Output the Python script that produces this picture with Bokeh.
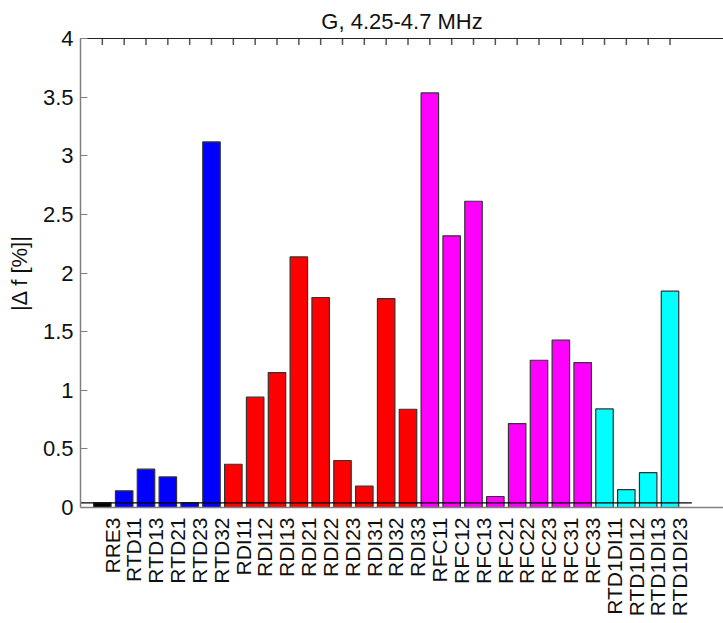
import math
from bokeh.plotting import figure
from bokeh.models import Range1d, LinearAxis, FixedTicker, ColumnDataSource
from bokeh.embed import file_html
from bokeh.resources import INLINE

names = ["RRE3", "RTD11", "RTD13", "RTD21", "RTD23", "RTD32",
         "RDI11", "RDI12", "RDI13", "RDI21", "RDI22", "RDI23", "RDI31", "RDI32", "RDI33",
         "RFC11", "RFC12", "RFC13", "RFC21", "RFC22", "RFC23", "RFC31", "RFC33",
         "RTD1DI11", "RTD1DI12", "RTD1DI13", "RTD1DI23"]
values = [0.04, 0.142, 0.327, 0.261, 0.04, 3.118,
          0.369, 0.941, 1.151, 2.137, 1.791, 0.401, 0.182, 1.782, 0.838,
          3.536, 2.317, 2.612, 0.094, 0.716, 1.256, 1.427, 1.236,
          0.841, 0.153, 0.298, 1.845]
groups = ["RRE"] + ["RTD"] * 5 + ["RDI"] * 9 + ["RFC"] * 8 + ["RTD1DI"] * 4
group_colors = {"RRE": "#000000", "RTD": "#0000ff", "RDI": "#ff0000",
                "RFC": "#ff00ff", "RTD1DI": "#00ffff"}
threshold = 0.04
y_ticks = [0, 0.5, 1, 1.5, 2, 2.5, 3, 3.5, 4]

FONT = "Liberation Sans"
FS = "22px"
TXT = "#111111"
n = len(names)
xpos = list(range(1, n + 1))
x_end = 29.45
y_max = 4
tick_len = 0.055  # length of the inward top ticks, in y units

src = ColumnDataSource(dict(x=xpos, top=values,
                            color=[group_colors[g] for g in groups]))

p = figure(width=723, height=623, output_backend="svg", toolbar_location=None,
           x_range=Range1d(0, x_end), y_range=Range1d(0, y_max),
           x_axis_type=None, y_axis_type=None,
           min_border_left=80, min_border_right=0, min_border_top=38,
           min_border_bottom=116)
p.outline_line_color = None
p.grid.visible = False
p.background_fill_color = "white"
p.border_fill_color = "white"

p.title.text = "G, 4.25-4.7 MHz"
p.title.text_font = FONT
p.title.text_font_size = FS
p.title.text_font_style = "normal"
p.title.align = "center"
p.title.text_color = TXT

p.vbar(x="x", top="top", width=0.8, bottom=0, fill_color="color",
       line_color="#333333", line_width=1.2, source=src)
p.line(x=[0, 28], y=[threshold, threshold], line_color="black", line_width=1.2)

# top inward ticks at each bar
p.segment(x0=xpos, x1=xpos, y0=[y_max] * n, y1=[y_max - tick_len] * n,
          line_color="#555555", line_width=1.5)

# left axis
yax = LinearAxis(ticker=FixedTicker(ticks=y_ticks),
                 major_label_overrides={t: f"{t:g}" for t in y_ticks})
yax.axis_label = "|\u0394 f [%]|"
yax.axis_label_text_font = FONT
yax.axis_label_text_font_size = FS
yax.axis_label_text_font_style = "normal"
yax.axis_label_text_color = TXT
yax.axis_label_standoff = 8
yax.major_label_text_font = FONT
yax.major_label_text_font_size = FS
yax.major_label_text_color = TXT
yax.major_label_standoff = 7
yax.major_tick_in = 7
yax.major_tick_out = 0
yax.minor_tick_line_color = None
yax.axis_line_color = "#808080"
yax.major_tick_line_color = "#808080"
yax.axis_line_width = 1.5
p.add_layout(yax, "left")

# top axis: line only
tax = LinearAxis(ticker=FixedTicker(ticks=[]))
tax.major_label_standoff = 0
tax.major_tick_in = 0
tax.major_tick_out = 0
tax.minor_tick_line_color = None
tax.major_tick_line_color = None
tax.axis_line_color = "#222222"
p.add_layout(tax, "above")

# bottom axis with shifted labels
p.extra_x_ranges = {"lab": Range1d(-0.45, x_end - 0.45)}
bax = LinearAxis(x_range_name="lab", ticker=FixedTicker(ticks=xpos),
                 major_label_overrides={i + 1: nm for i, nm in enumerate(names)})
bax.major_label_orientation = math.pi / 2
bax.major_label_text_font = FONT
bax.major_label_text_font_size = "21px"
bax.major_label_text_color = TXT
bax.major_label_standoff = 10
bax.major_tick_line_color = None
bax.major_tick_in = 0
bax.major_tick_out = 0
bax.minor_tick_line_color = None
bax.axis_line_color = "#808080"
bax.axis_line_width = 1.5
p.add_layout(bax, "below")

open("out.html", "w").write(file_html(p, INLINE))
